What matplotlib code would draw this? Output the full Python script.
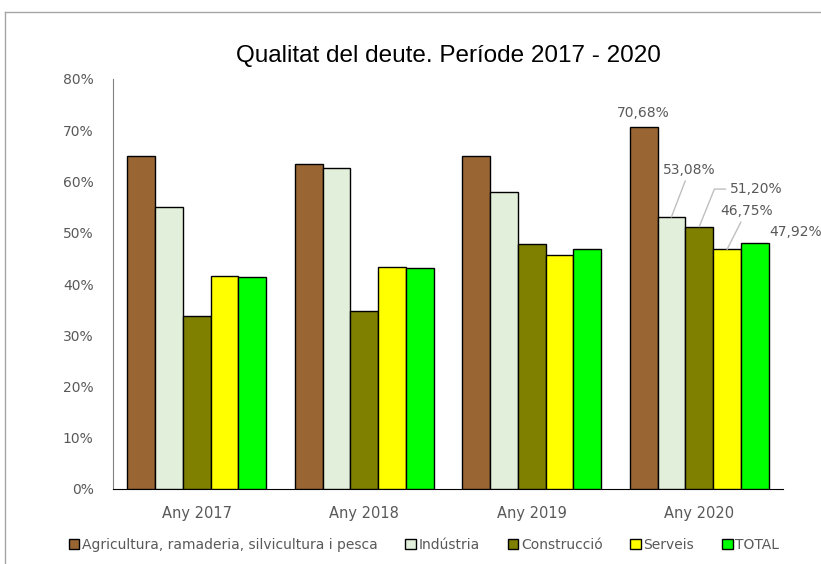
import matplotlib
matplotlib.use("Agg")
import matplotlib.pyplot as plt
import numpy as np
from matplotlib.lines import Line2D

categories = ["Any 2017", "Any 2018", "Any 2019", "Any 2020"]
series_names = ["Agricultura, ramaderia, silvicultura i pesca", "Indústria",
                "Construcció", "Serveis", "TOTAL"]
agricultura = [65.0, 63.5, 65.0, 70.68]
industria = [55.1, 62.7, 58.0, 53.08]
construccio = [33.8, 34.8, 47.9, 51.20]
serveis = [41.6, 43.3, 45.7, 46.75]
total = [41.4, 43.1, 46.9, 47.92]
series_values = [agricultura, industria, construccio, serveis, total]
colors = ["#996633", "#E2EFDA", "#808000", "#FFFF00", "#00FF00"]
yticks = [0, 10, 20, 30, 40, 50, 60, 70, 80]
ytick_labels = ["0%", "10%", "20%", "30%", "40%", "50%", "60%", "70%", "80%"]

grey = "#595959"
fig = plt.figure(figsize=(8.21, 5.64), dpi=100)
ax = fig.add_axes([113/821, 1-489/564, 670/821, 410/564])

x = np.arange(len(categories))
w = 0.166
bars = []
for i, (vals, c) in enumerate(zip(series_values, colors)):
    b = ax.bar(x + (i - 2) * w, vals, w, color=c, edgecolor="black",
               linewidth=1.0, label=series_names[i], zorder=3)
    bars.append(b)

ax.set_xlim(-0.5, len(categories) - 0.5)
ax.set_ylim(0, 80)
ax.set_yticks(yticks)
ax.set_yticklabels(ytick_labels, color=grey, fontsize=10)
ax.set_xticks(x)
ax.set_xticklabels(categories, color=grey, fontsize=10.5)
ax.tick_params(axis="y", length=0, pad=14)
ax.tick_params(axis="x", length=0, pad=12)
for s in ["top", "right"]:
    ax.spines[s].set_visible(False)
ax.spines["left"].set_color("#808080")
ax.spines["bottom"].set_color("black")

fig.text(448/821, 1-56/564, "Qualitat del deute. Període 2017 - 2020",
         ha="center", va="center", fontsize=17.5, family="Liberation Sans",
         color="black")

# data labels for 2020
j = 3
offsets = [(0, 10), (13, 34), (41, 27), (14, 27.7), (29, 8)]
leaders = [None, "arc3", "angle,angleA=0,angleB=68,rad=0", "arc3", None]
for i, vals in enumerate(series_values):
    v = vals[j]
    label = f"{v:.2f}".replace(".", ",") + "%"
    xp = x[j] + (i - 2) * w
    ap = None
    if leaders[i]:
        ap = dict(arrowstyle="-", color="#BFBFBF", lw=1.0,
                  connectionstyle=leaders[i], shrinkA=1, shrinkB=0)
    ax.annotate(label, xy=(xp, v), xytext=offsets[i], textcoords="offset points",
                ha="center", va="center", fontsize=10, color=grey,
                arrowprops=ap, annotation_clip=False, zorder=5)

leg = fig.legend(handles=[b for b in bars], labels=series_names,
                 loc="center", bbox_to_anchor=(424/821, 1-545/564), ncol=5,
                 frameon=False, fontsize=10, handlelength=0.75, handleheight=0.75,
                 handletextpad=0.2, columnspacing=2.0, borderaxespad=0)
for t in leg.get_texts():
    t.set_color(grey)

fig.add_artist(Line2D([5/821, 1], [1-12/564, 1-12/564], color="#A6A6A6", lw=1,
                      transform=fig.transFigure))
fig.add_artist(Line2D([5/821, 5/821], [1-12/564, 0], color="#A6A6A6", lw=1,
                      transform=fig.transFigure))

fig.savefig("out.png", dpi=100)
